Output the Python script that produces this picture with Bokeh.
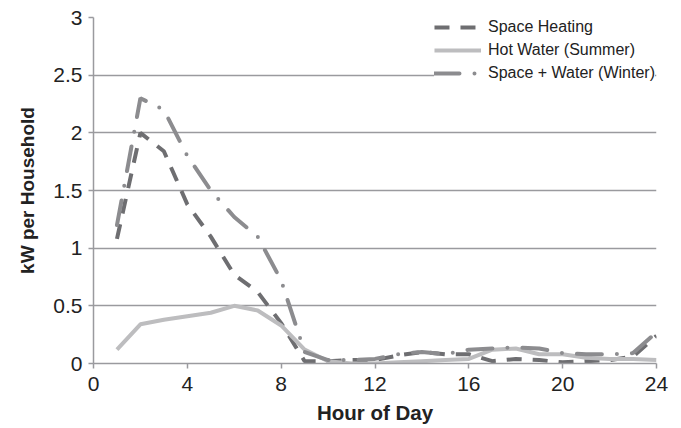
from bokeh.plotting import figure
from bokeh.models import Range1d, FixedTicker, Legend, LegendItem
from bokeh.embed import file_html
from bokeh.resources import INLINE

hours = list(range(1, 25))
space_heating = [1.08, 2.00, 1.84, 1.38, 1.10, 0.77, 0.62, 0.35, 0.02, 0.02, 0.03, 0.03,
                 0.07, 0.10, 0.08, 0.08, 0.02, 0.04, 0.03, 0.01, 0.02, 0.03, 0.06, 0.24]
hot_water_summer = [0.12, 0.34, 0.38, 0.41, 0.44, 0.50, 0.46, 0.33, 0.12, 0.02, 0.00, 0.00,
                    0.01, 0.02, 0.03, 0.04, 0.12, 0.13, 0.08, 0.08, 0.05, 0.04, 0.04, 0.03]
space_water_winter = [1.20, 2.30, 2.20, 1.80, 1.50, 1.27, 1.10, 0.72, 0.10, 0.03, 0.03, 0.04,
                      0.08, 0.10, 0.08, 0.12, 0.13, 0.14, 0.13, 0.09, 0.08, 0.08, 0.09, 0.27]

x_ticks = [0, 4, 8, 12, 16, 20, 24]
y_ticks = [0, 0.5, 1, 1.5, 2, 2.5, 3]
y_tick_labels = ["0", "0.5", "1", "1.5", "2", "2.5", "3"]
series_names = ["Space Heating", "Hot Water (Summer)", "Space + Water (Winter)"]

FONT = "Liberation Sans"
GRID = "#9a9a9e"

p = figure(width=681, height=428, output_backend="svg", toolbar_location=None,
           x_range=Range1d(0, 24), y_range=Range1d(0, 3),
           min_border_left=93, min_border_right=25, min_border_top=17, min_border_bottom=65)
p.outline_line_color = None
p.background_fill_color = "white"

r1 = p.line(hours, space_heating, line_color="#6e6e71", line_width=4, line_dash="15 11")
r2 = p.line(hours, hot_water_summer, line_color="#bdbdbf", line_width=4)
r3 = p.line(hours, space_water_winter, line_color="#8c8c8f", line_width=4,
            line_dash="25 15 0 15", line_cap="round")

p.xaxis.ticker = FixedTicker(ticks=x_ticks)
p.yaxis.ticker = FixedTicker(ticks=y_ticks)
p.yaxis.major_label_overrides = {t: l for t, l in zip(y_ticks, y_tick_labels)}
p.xaxis.major_label_overrides = {t: str(t) for t in x_ticks}

for ax in (p.xaxis, p.yaxis):
    ax.axis_line_color = GRID
    ax.axis_line_width = 1.5
    ax.major_tick_line_color = GRID
    ax.major_tick_line_width = 1.5
    ax.major_tick_out = 5
    ax.major_tick_in = 0
    ax.minor_tick_line_color = None
    ax.major_label_text_font = FONT
    ax.major_label_text_font_size = "21px"
    ax.major_label_text_color = "#222222"
    ax.axis_label_text_font = FONT
    ax.axis_label_text_font_style = "bold"
    ax.axis_label_text_color = "#222222"

p.xaxis.axis_label = "Hour of Day"
p.yaxis.axis_label = "kW per Household"
p.xaxis.axis_label_text_font_size = "20.5px"
p.yaxis.axis_label_text_font_size = "19px"
p.xaxis.major_label_standoff = 8
p.yaxis.major_label_standoff = 6
p.xaxis.axis_label_standoff = 7
p.yaxis.axis_label_standoff = 12

p.xgrid.grid_line_color = None
p.ygrid.grid_line_color = GRID
p.ygrid.grid_line_width = 1.5

legend = Legend(items=[LegendItem(label=series_names[0], renderers=[r1]),
                       LegendItem(label=series_names[1], renderers=[r2]),
                       LegendItem(label=series_names[2], renderers=[r3])],
                location="top_right", margin=1, padding=4, spacing=5,
                glyph_width=47, glyph_height=18, label_height=18, label_standoff=7,
                label_text_font=FONT, label_text_font_size="16px", label_text_color="#222222",
                border_line_color=None, background_fill_color="white", background_fill_alpha=1)
p.add_layout(legend)

open("out.html", "w").write(file_html(p, INLINE))
